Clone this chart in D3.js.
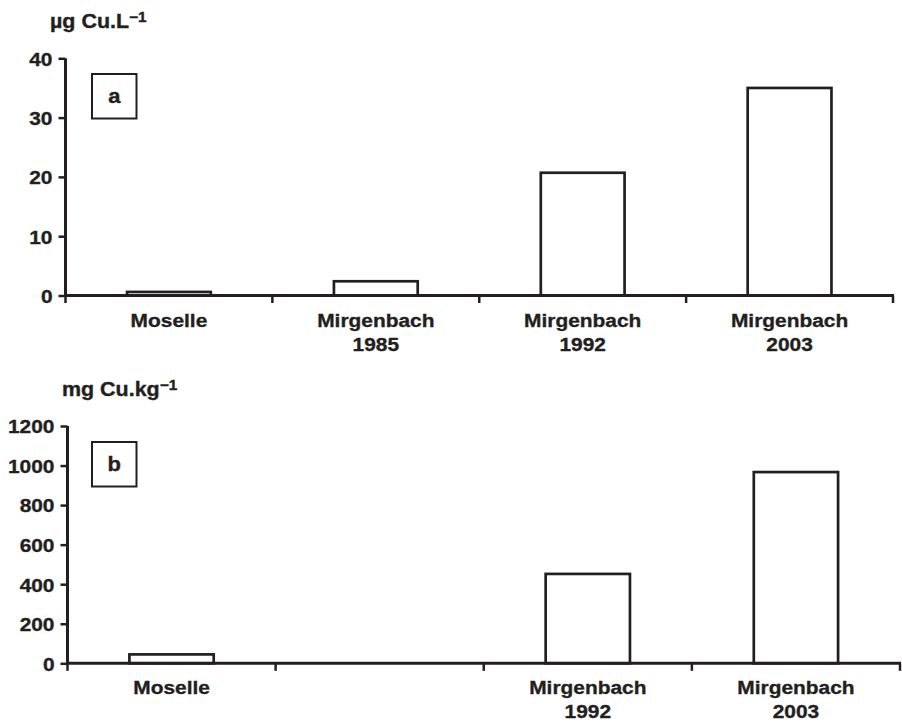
<!DOCTYPE html>
<html>
<head>
<meta charset="utf-8">
<script src="https://cdn.jsdelivr.net/npm/d3@7"></script>
<style>
  body { margin: 0; background: #fff; }
  text { font-family: "Liberation Sans", Arial, Helvetica, sans-serif; font-weight: bold; fill: #231f20; stroke: #231f20; stroke-width: 0.35px; }
</style>
</head>
<body>
<svg id="chart" width="902" height="723"></svg>
<script>
// Copper in the water column (a) and in sediments (b)
const categoriesA = ["Moselle", "Mirgenbach\n1985", "Mirgenbach\n1992", "Mirgenbach\n2003"];
const waterCu = [0.6, 2.4, 20.7, 35.0];          // µg Cu.L-1
const ticksA = [0, 10, 20, 30, 40];

const categoriesB = ["Moselle", "", "Mirgenbach\n1992", "Mirgenbach\n2003"];
const sedimentCu = [45, null, 452, 967];        // mg Cu.kg-1
const ticksB = [0, 200, 400, 600, 800, 1000, 1200];

const ink = "#231f20";
const stretchX = 1.1;   // slightly wide lettering
const fontSize = 19;

const svg = d3.select("#chart");

function wideText(g, x, y, str, anchor, size) {
  const t = g.append("g").attr("transform", `translate(${x},${y}) scale(${stretchX},1)`)
    .append("text")
    .attr("text-anchor", anchor || "start")
    .style("font-size", (size || fontSize) + "px")
    .text(str);
  return t;
}

function panel(opts) {
  const g = svg.append("g");
  const x = d3.scaleBand().domain(d3.range(opts.categories.length))
    .range([opts.left, opts.right]).padding(0);
  const y = d3.scaleLinear().domain([0, opts.yMax]).range([opts.zero, opts.top]);
  const step = x.step();
  const barFrac = 0.405;

  // bars
  g.selectAll("rect.bar")
    .data(opts.values.map((v, i) => ({ v, i })).filter(d => d.v != null))
    .join("rect")
    .attr("class", "bar")
    .attr("x", d => x(d.i) + step * (1 - barFrac) / 2)
    .attr("width", step * barFrac)
    .attr("y", d => y(d.v))
    .attr("height", d => y(0) - y(d.v))
    .attr("fill", "#fff")
    .attr("stroke", ink)
    .attr("stroke-width", 2.7);

  // y axis
  const yAxis = d3.axisLeft(y).tickValues(opts.ticks).tickSize(7).tickPadding(6)
    .tickFormat(d3.format("d"));
  const ya = g.append("g").attr("transform", `translate(${opts.left},0)`).call(yAxis);
  ya.select(".domain").attr("stroke", ink).attr("stroke-width", 3)
    .attr("d", `M0,${y(opts.yMax)}V${y(0)}`);
  ya.selectAll(".tick line").attr("stroke", ink).attr("stroke-width", 2.5);
  ya.selectAll(".tick text")
    .attr("font-family", null).attr("font-size", null)
    .style("font-size", fontSize + "px")
    .attr("fill", ink)
    .attr("x", -13 / stretchX)
    .attr("dy", "0.36em")
    .attr("transform", `scale(${stretchX},1)`);

  // x axis: baseline with ticks at category boundaries
  const bounds = d3.range(opts.categories.length).map(i => x(i)).concat([opts.right]);
  g.append("line")
    .attr("x1", opts.left - 1.5).attr("x2", opts.right + 1)
    .attr("y1", y(0)).attr("y2", y(0))
    .attr("stroke", ink).attr("stroke-width", 3);
  g.selectAll("line.xtick").data(bounds).join("line")
    .attr("class", "xtick")
    .attr("x1", d => d).attr("x2", d => d)
    .attr("y1", y(0)).attr("y2", y(0) + 7.5)
    .attr("stroke", ink).attr("stroke-width", 2.5);

  // category labels
  opts.categories.forEach((c, i) => {
    const cx = x(i) + step / 2;
    c.split("\n").forEach((line, j) => {
      if (line) wideText(g, cx, y(0) + opts.labelGap + j * opts.lineGap, line, "middle");
    });
  });

  // unit title with superscript
  const tg = g.append("g").attr("transform", `translate(${opts.titleX},${opts.titleY}) scale(${stretchX},1)`);
  const tt = tg.append("text").style("font-size", "19.5px");
  tt.append("tspan").text(opts.unit);
  tt.append("tspan").attr("dy", -6.5).style("font-size", "14px").text("\u22121");

  // panel letter box
  g.append("rect")
    .attr("x", opts.boxX).attr("y", opts.boxY)
    .attr("width", 44.5).attr("height", 44.5)
    .attr("fill", "#fff").attr("stroke", ink).attr("stroke-width", 2);
  wideText(g, opts.boxX + 22.25, opts.boxY + 29, opts.letter, "middle", 20);
}

panel({
  categories: categoriesA, values: waterCu, ticks: ticksA, yMax: 40,
  left: 65.5, right: 893, zero: 295.5, top: 58.3,
  labelGap: 31.5, lineGap: 23.5,
  unit: "µg Cu.L", titleX: 50, titleY: 28,
  letter: "a", boxX: 92, boxY: 74
});

panel({
  categories: categoriesB, values: sedimentCu, ticks: ticksB, yMax: 1200,
  left: 67.5, right: 900, zero: 663.3, top: 426,
  labelGap: 30.5, lineGap: 24.5,
  unit: "mg Cu.kg", titleX: 62, titleY: 396,
  letter: "b", boxX: 92, boxY: 442
});
</script>
</body>
</html>
